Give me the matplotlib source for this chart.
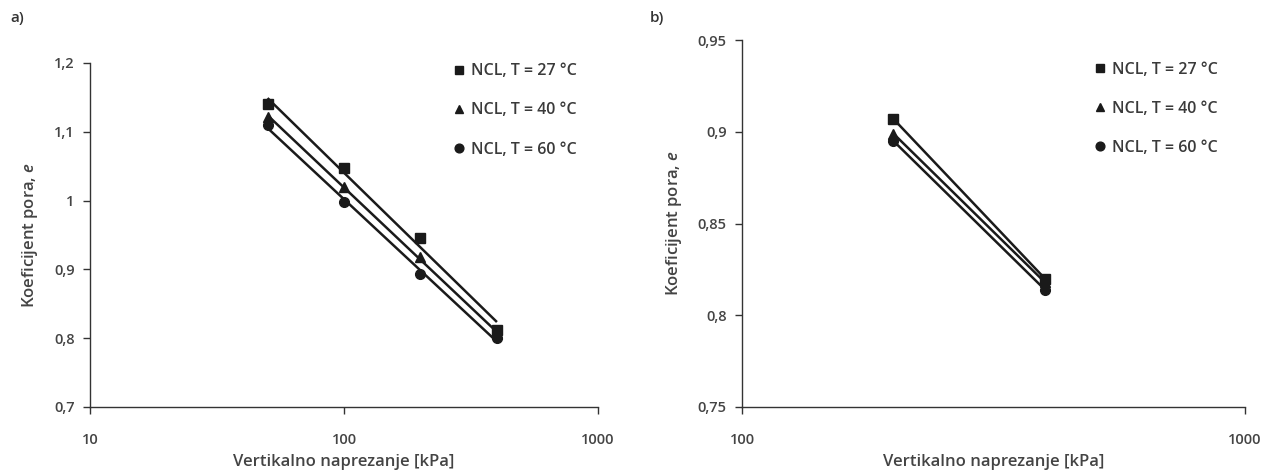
import numpy as np
import matplotlib
matplotlib.use("Agg")
import matplotlib.pyplot as plt
from matplotlib.ticker import FixedLocator, FixedFormatter, NullLocator

plt.rcParams['font.family'] = ['Open Sans', 'DejaVu Sans']
plt.rcParams['font.weight'] = 'semibold'
plt.rcParams['mathtext.fontset'] = 'custom'
plt.rcParams['mathtext.it'] = 'Open Sans:italic:semibold'

series_labels = ["NCL, T = 27 °C", "NCL, T = 40 °C", "NCL, T = 60 °C"]
markers = ["s", "^", "o"]

# Panel a
xa = [50, 100, 200, 400]
ya_27 = [1.140, 1.047, 0.946, 0.812]
ya_40 = [1.122, 1.020, 0.918, 0.806]
ya_60 = [1.110, 0.998, 0.893, 0.800]

# Panel b
xb = [200, 400]
yb_27 = [0.907, 0.820]
yb_40 = [0.899, 0.818]
yb_60 = [0.895, 0.814]

ya_ticks = [0.7, 0.8, 0.9, 1.0, 1.1, 1.2]
ya_ticklabels = ["0,7", "0,8", "0,9", "1", "1,1", "1,2"]
yb_ticks = [0.75, 0.80, 0.85, 0.90, 0.95]
yb_ticklabels = ["0,75", "0,8", "0,85", "0,9", "0,95"]
xa_ticks = [10, 100, 1000]
xb_ticks = [100, 1000]

xlabel = "Vertikalno naprezanje [kPa]"
ylabel = "Koeficijent pora, $\\mathit{e}$"

W, H = 1274, 475
fig = plt.figure(figsize=(W / 100, H / 100), dpi=100)

txt = "#444444"
axc = "#333333"


def setup(ax, xlim, ylim, yt, ytl, xt):
    ax.set_xscale("log")
    ax.set_xlim(*xlim)
    ax.set_ylim(*ylim)
    ax.xaxis.set_major_locator(FixedLocator(xt))
    ax.xaxis.set_major_formatter(FixedFormatter([str(v) for v in xt]))
    ax.xaxis.set_minor_locator(NullLocator())
    ax.yaxis.set_major_locator(FixedLocator(yt))
    ax.yaxis.set_major_formatter(FixedFormatter(ytl))
    for s in ["top", "right"]:
        ax.spines[s].set_visible(False)
    for s in ["left", "bottom"]:
        ax.spines[s].set_color(axc)
        ax.spines[s].set_linewidth(1.0)
    ax.tick_params(axis="y", direction="out", length=5, width=1, color=axc,
                   labelsize=10.5, labelcolor=txt, pad=6)
    ax.tick_params(axis="x", direction="out", length=5, width=1, color=axc,
                   labelsize=10.5, labelcolor=txt, pad=14)
    ax.set_xlabel(xlabel, fontsize=12, color=txt, labelpad=5, fontweight="semibold")
    ax.set_ylabel(ylabel, fontsize=12, color=txt, labelpad=10, fontweight="semibold")


def draw(ax, x, ys):
    handles = []
    xx = np.array(x, dtype=float)
    for y, m, lab in zip(ys, markers, series_labels):
        coef = np.polyfit(np.log10(xx), np.array(y), 1)
        xl = np.array([xx.min(), xx.max()])
        yl = np.polyval(coef, np.log10(xl))
        ax.plot(xl, yl, color="#1a1a1a", lw=1.8, solid_capstyle="butt", zorder=2)
        h, = ax.plot(x, y, linestyle="none", marker=m, color="#1a1a1a",
                     markersize=7, label=lab, zorder=3)
        handles.append(h)
    leg = ax.legend(handles=handles, loc="upper right", frameon=False,
                    fontsize=11.5, labelcolor="#3a3a3a", handlelength=0.6,
                    handletextpad=0.5, labelspacing=1.45, borderaxespad=0.2,
                    markerscale=0.9)
    return leg


ax1 = fig.add_axes([90 / W, 1 - 407 / H, (598 - 90) / W, (407 - 63) / H])
setup(ax1, (10, 1000), (0.7, 1.2), ya_ticks, ya_ticklabels, xa_ticks)
draw(ax1, xa, [ya_27, ya_40, ya_60])
ax1.legend_.set_bbox_to_anchor((0.978, 1.027))

ax2 = fig.add_axes([742 / W, 1 - 407 / H, (1245 - 742) / W, (407 - 40) / H])
setup(ax2, (100, 1000), (0.75, 0.95), yb_ticks, yb_ticklabels, xb_ticks)
draw(ax2, xb, [yb_27, yb_40, yb_60])
ax2.legend_.set_bbox_to_anchor((0.966, 0.967))

for ax in (ax1, ax2):
    plt.setp(ax.get_xticklabels() + ax.get_yticklabels(), fontweight="semibold")

fig.text(10 / W, 1 - 18 / H, "a)", fontsize=11, color="#333333", va="center",
         fontweight="semibold")
fig.text(650 / W, 1 - 18 / H, "b)", fontsize=11, color="#333333", va="center",
         fontweight="semibold")

fig.savefig("out.png", dpi=100, facecolor="white")
